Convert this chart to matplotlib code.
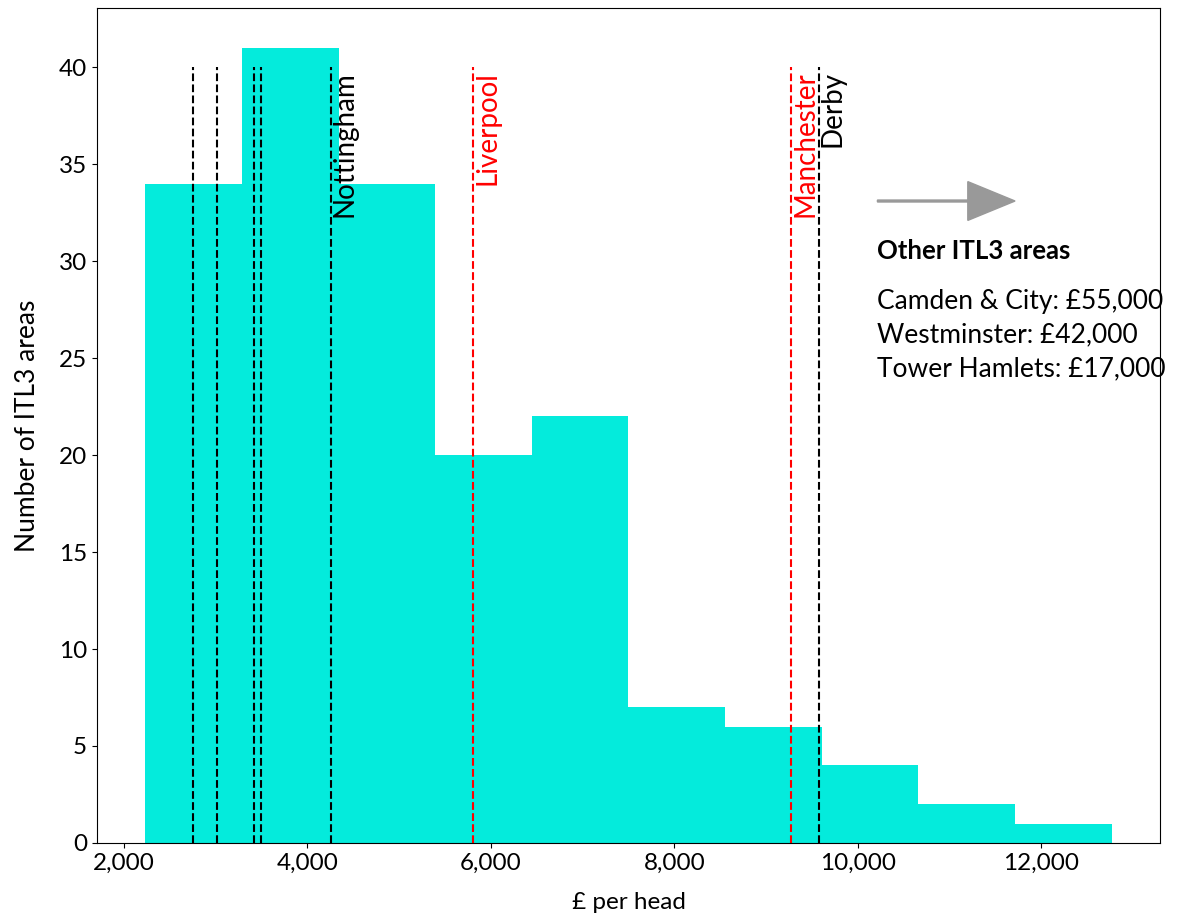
# Histogram of £ per head across ITL3 areas, with marked cities
import numpy as np
import matplotlib.pyplot as plt
from matplotlib.ticker import FuncFormatter

plt.rcParams['font.family'] = ['Lato', 'DejaVu Sans']

# histogram bins and counts
bin_edges = [2233, 3286, 4340, 5393, 6446, 7500, 8553, 9606, 10660, 11713, 12767]
counts = [34, 41, 34, 20, 22, 7, 6, 4, 2, 1]

# marked areas (value, label, colour)
line_values = [2748, 3011, 3421, 3493, 4253, 5804, 9272, 9572]
line_labels = ["", "", "", "", "Nottingham", "Liverpool", "Manchester", "Derby"]
line_colors = ["black", "black", "black", "black", "black", "red", "red", "black"]

# outliers off the chart
other_title = "Other ITL3 areas"
other_areas = ["Camden & City: £55,000", "Westminster: £42,000", "Tower Hamlets: £17,000"]

fig = plt.figure(figsize=(11.78, 9.24), dpi=100)
ax = fig.add_axes([0.0823, 0.0877, 0.9024, 0.9036])

bin_mids = [(bin_edges[i] + bin_edges[i + 1]) / 2 for i in range(len(counts))]
ax.hist(bin_mids, bins=bin_edges, weights=counts, color='#04EBDC')

for v, lab, c in zip(line_values, line_labels, line_colors):
    ax.vlines(v, 0, 40, colors=c, linestyles='--', linewidth=1.5)
    if lab:
        ax.text(v + 15, 39.8, lab, color=c, rotation=90, ha='left', va='top', fontsize=20)

# arrow pointing to the areas off the scale
ax.arrow(10214, 33.1, 1500, 0, width=0.1, head_width=2.0, head_length=515,
         length_includes_head=True, color='#999999')

ax.text(10214, 30.5, other_title, fontsize=18.5, fontweight='bold', va='center', ha='left')
for i, s in enumerate(other_areas):
    ax.text(10214, 27.9 - i * 1.72, s, fontsize=19, va='center', ha='left', clip_on=False)

ax.xaxis.set_major_formatter(FuncFormatter(lambda x, p: f"{int(x):,}"))
ax.tick_params(labelsize=17.5)
ax.set_xlabel("£ per head", fontsize=17.5, labelpad=13)
ax.set_ylabel("Number of ITL3 areas", fontsize=19, labelpad=14)

plt.savefig("out.png", dpi=100)
